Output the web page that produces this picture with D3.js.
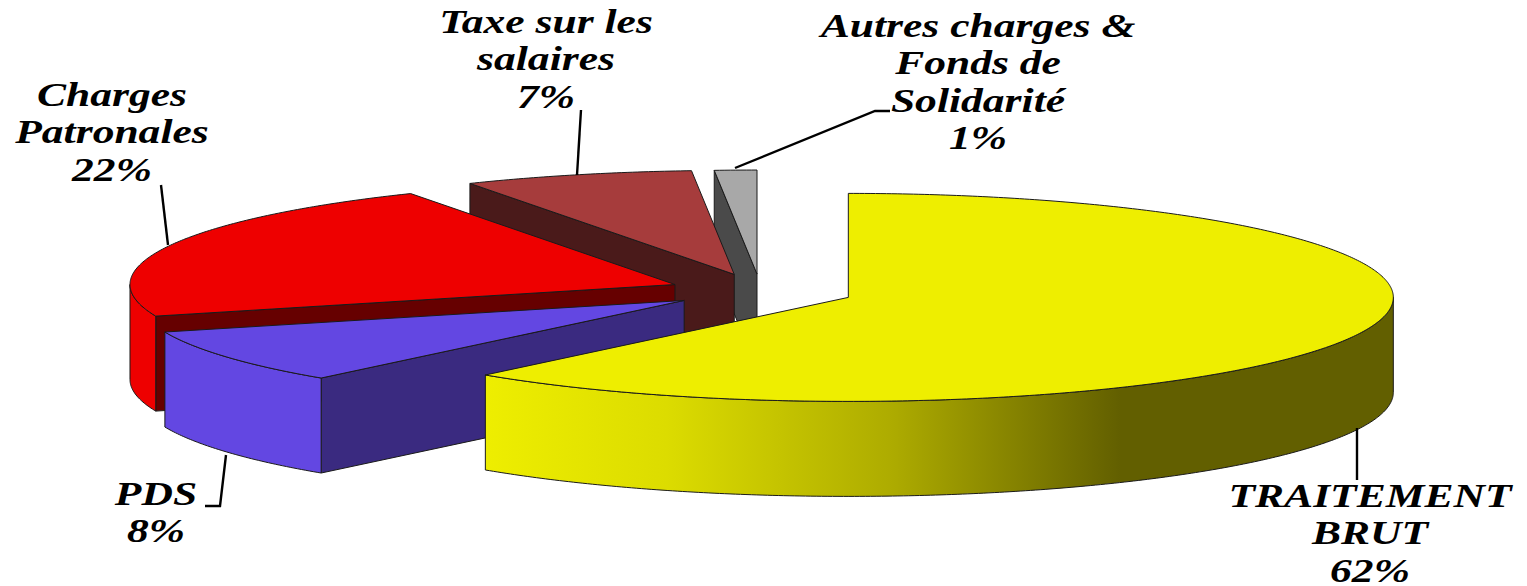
<!DOCTYPE html>
<html>
<head>
<meta charset="utf-8">
<script src="https://cdn.jsdelivr.net/npm/d3@7"></script>
<style>
html,body{margin:0;padding:0;background:#fff;overflow:hidden}
text{font-family:"Liberation Serif",serif;font-weight:bold;font-style:italic;fill:#000}
</style>
</head>
<body>
<svg id="c" width="1527" height="586"></svg>
<script>
const categories = ["TRAITEMENT BRUT", "PDS", "Charges Patronales", "Taxe sur les salaires", "Autres charges & Fonds de Solidarité"];
const values = [61.6, 8.49, 21.85, 6.81, 1.25];
const labelLines = [["TRAITEMENT", "BRUT"], ["PDS"], ["Charges", "Patronales"], ["Taxe sur les", "salaires"], ["Autres charges &", "Fonds de", "Solidarité"]];
const topColors = ["#eeee00", "#6347e2", "#ee0000", "#a63c3c", "#a8a8a8"];
const wallColors = ["url(#yellowWall)", "#6347e2", "#ee0000", "#a63c3c", "#a8a8a8"];
const innerColors = ["#5f5c00", "#3a2a80", "#660000", "#4a1a1a", "#4a4a4a"];

const W = 1527, H = 586;
const cx = 760.5, cy = 291, rx = 545, ry = 104, depth = 95;
const explodes = [94, 91, 92, 91, 89];
const svg = d3.select("#c");

const defs = svg.append("defs");
const grad = defs.append("linearGradient").attr("id", "yellowWall")
  .attr("gradientUnits", "userSpaceOnUse").attr("x1", 485).attr("x2", 1393).attr("y1", 0).attr("y2", 0);
[[0, "#eeee00"], [0.2, "#dcdc00"], [0.45, "#adab00"], [0.7, "#625f00"], [1, "#625f00"]]
  .forEach(s => grad.append("stop").attr("offset", s[0]).attr("stop-color", s[1]));

const pie = d3.pie().sort(null).startAngle(0).endAngle(2 * Math.PI);
const arcs = pie(values);
const line = d3.line();
const sx = d3.scaleLinear().domain([-1, 1]).range([-rx, rx]);
const sy = d3.scaleLinear().domain([-1, 1]).range([-ry, ry]);

function apex(a, i) {
  const m = (a.startAngle + a.endAngle) / 2;
  return [cx + sx(Math.sin(m)) * explodes[i] / rx, cy - sy(Math.cos(m)) * explodes[i] / rx];
}
function rim(o, t, dz) { return [o[0] + sx(Math.sin(t)), o[1] - sy(Math.cos(t)) + dz]; }
function angles(a, b) {
  const n = Math.max(2, Math.ceil((b - a) / 0.01));
  return d3.range(n + 1).map(i => a + (b - a) * i / n);
}
const stroke = "#1a1a1a";
const g = svg.append("g");

// painter's order: back slices first
arcs.map((a, i) => ({ a, i })).reverse().forEach(({ a, i }) => {
  const o = apex(a, i);
  const s = a.startAngle, e = a.endAngle;
  const shape = pts => g.append("path").attr("d", line(pts) + "Z");

  if (Math.sin(s) < 0) {
    const p = rim(o, s, 0);
    shape([o, p, [p[0], p[1] + depth], [o[0], o[1] + depth]])
      .attr("fill", innerColors[i]).attr("stroke", stroke).attr("stroke-width", 1);
  }
  if (Math.sin(e) > 0) {
    const p = rim(o, e, 0);
    shape([o, p, [p[0], p[1] + depth], [o[0], o[1] + depth]])
      .attr("fill", innerColors[i]).attr("stroke", stroke).attr("stroke-width", 1);
  }
  const fa = Math.max(s, Math.PI / 2), fb = Math.min(e, 3 * Math.PI / 2);
  if (fb > fa) {
    const t = angles(fa, fb);
    const pts = t.map(v => rim(o, v, 0)).concat(t.slice().reverse().map(v => rim(o, v, depth)));
    shape(pts).attr("fill", wallColors[i]).attr("stroke", stroke).attr("stroke-width", 1);
  }
  const top = [o].concat(angles(s, e).map(v => rim(o, v, 0)));
  shape(top).attr("fill", topColors[i]).attr("stroke", stroke).attr("stroke-width", 1);
});

// leader lines
const leaders = [
  [[1357, 428], [1357, 480]],
  [[226, 455], [220, 506], [205, 506]],
  [[161, 185], [168, 245]],
  [[581, 110], [577, 175]],
  [[890, 111], [875, 111], [735, 168]]
];
leaders.forEach(p => svg.append("path").attr("d", line(p)).attr("fill", "none")
  .attr("stroke", "#000").attr("stroke-width", 2.4));

// labels: the reference text is stretched horizontally
const labelAnchor = [[1370, 507], [156, 505], [112, 106], [546, 33], [978, 37]];
const lineGap = 37.3;
const stretch = 1.32;
const pct = d3.format(".0f");
categories.forEach((c, i) => {
  const t = svg.append("text").attr("text-anchor", "middle").attr("font-size", 33)
    .attr("transform", `translate(${labelAnchor[i][0]},${labelAnchor[i][1]}) scale(${stretch},1)`);
  labelLines[i].concat(pct(values[i]) + "%").forEach((l, j) => {
    t.append("tspan").attr("x", 0).attr("y", j * lineGap).text(l);
  });
});
</script>
</body>
</html>
